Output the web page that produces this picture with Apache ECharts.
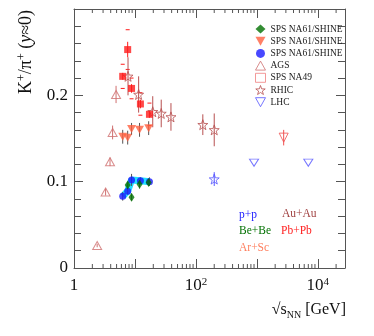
<!DOCTYPE html>
<html>
<head>
<meta charset="utf-8">
<script src="https://cdn.jsdelivr.net/npm/echarts@6/dist/echarts.min.js"></script>
<style>
  html, body { margin: 0; padding: 0; background: #fff; }
  #chart { width: 374px; height: 336px; }
</style>
</head>
<body>
<div id="chart"></div>
<script>
// NA61/SHINE Be+Be
const beE = [7.6, 8.8, 11.9, 16.8];
const beK = [0.096, 0.082, 0.097, 0.099];
const beErr = [0.004, 0.004, 0.005, 0.004];

// NA61/SHINE Ar+Sc
const arE = [6.3, 7.6, 8.8, 11.9, 16.8];
const arK = [0.152, 0.151, 0.161, 0.160, 0.162];
const arErr = [0.008, 0.008, 0.007, 0.008, 0.008];

// NA61/SHINE p+p
const ppE = [6.3, 7.6, 8.8, 12.3, 17.3];
const ppK = [0.083, 0.089, 0.102, 0.101, 0.100];
const ppErr = [0.005, 0.004, 0.007, 0.004, 0.005];

// AGS Au+Au
const agsE = [2.4, 3.3, 3.9, 4.3, 4.9];
const agsK = [0.026, 0.088, 0.123, 0.157, 0.201];
const agsErr = [0.002, 0.004, 0.005, 0.008, 0.010];

// SPS NA49 Pb+Pb
const pbE = [6.3, 7.6, 8.8, 12.3, 17.3];
const pbK = [0.222, 0.253, 0.208, 0.190, 0.178];
const pbStat = [0.004, 0.009, 0.005, 0.005, 0.004];
const pbSys = [0.014, 0.023, 0.012, 0.013, 0.013];

// RHIC Au+Au and p+p
const rhicE = [7.7, 11.5, 19.6, 27, 39, 130, 200];
const rhicK = [0.222, 0.201, 0.181, 0.179, 0.175, 0.166, 0.160];
const rhicErr = [0.022, 0.021, 0.018, 0.016, 0.016, 0.012, 0.019];
const rhicPpE = [200];
const rhicPpK = [0.103];
const rhicPpErr = [0.008];

// LHC Pb+Pb and p+p
const lhcPbE = [2760];
const lhcPbK = [0.151];
const lhcPbErr = [0.009];
const lhcPpE = [900, 7000];
const lhcPpK = [0.122, 0.122];

const xMin = 1, xMax = 28000;
const yMin = 0, yMax = 0.3;

const FONT = 'Liberation Serif';
const C = {
  be: '#007000', ar: '#ff6040', pp: '#1a1aff', band: '#22e0ff',
  ags: '#d07070', pb: '#ff1a1a', rhic: '#b85050', lhcPp: '#5555ff', lhcPb: '#f05050',
  frame: '#555'
};

// 符号形状
function starPath() {
  let d = '';
  for (let i = 0; i < 10; i++) {
    const r = i % 2 ? 4 : 10;
    const a = -Math.PI / 2 + i * Math.PI / 5;
    d += (i ? 'L' : 'M') + (10 + r * Math.cos(a)).toFixed(2) + ',' + (10 + r * Math.sin(a)).toFixed(2);
  }
  return 'path://' + d + 'Z';
}
const STAR = starPath();
const TRI_UP = 'path://M5,0L10,9L0,9Z';
const TRI_DOWN = 'path://M0,0L10,0L5,9Z';

const zip = (xs, ys) => xs.map((x, i) => [x, ys[i]]);
const zipErr = (xs, ys, es, ss) => xs.map((x, i) => [x, ys[i], es[i], ss ? ss[i] : 0]);

// 误差棒
function errSeries(data, color) {
  return {
    type: 'custom',
    silent: true,
    z: 2,
    data: data,
    encode: { x: 0, y: 1 },
    renderItem: (params, api) => {
      const x = api.value(0), y = api.value(1), e = api.value(2), s = api.value(3);
      const top = api.coord([x, y + e]);
      const bot = api.coord([x, y - e]);
      const children = [{
        type: 'line',
        shape: { x1: top[0], y1: top[1], x2: bot[0], y2: bot[1] },
        style: { stroke: color, lineWidth: 1 }
      }];
      if (s > 0) {
        [y + s, y - s].forEach(v => {
          const p = api.coord([x, v]);
          children.push({
            type: 'line',
            shape: { x1: p[0] - 2, y1: p[1], x2: p[0] + 2, y2: p[1] },
            style: { stroke: color, lineWidth: 1 }
          });
        });
      }
      return { type: 'group', children: children };
    }
  };
}

// 对数轴次刻度
const minorX = [];
for (let k = 0; k <= 4; k++) {
  for (let m = 2; m <= 9; m++) {
    const v = m * Math.pow(10, k);
    if (v < xMax) minorX.push([v]);
  }
}

const chart = echarts.init(document.getElementById('chart'), null, { renderer: 'canvas' });

const openStyle = c => ({ color: 'rgba(255,255,255,0)', borderColor: c, borderWidth: 1 });
const tick = { show: true, inside: true, length: 9, lineStyle: { color: C.frame, width: 1 } };
const minor = { show: true, splitNumber: 5, length: 7, lineStyle: { color: C.frame, width: 1 } };
const line = { show: true, onZero: false, lineStyle: { color: C.frame, width: 1 } };

chart.setOption({
  animation: false,
  backgroundColor: '#fff',
  grid: { left: 74, right: 29, top: 9, bottom: 68, outerBoundsMode: 'none' },
  legend: {
    orient: 'vertical',
    left: 250,
    top: 19,
    itemWidth: 10,
    itemHeight: 9,
    itemGap: 2.2,
    selectedMode: false,
    formatter: n => n.replace(/ \(.*\)$/, ''),
    textStyle: { fontFamily: FONT, fontSize: 9.5, color: '#222', lineHeight: 10 },
    data: [
      { name: 'SPS NA61/SHINE (Be+Be)', icon: 'diamond' },
      { name: 'SPS NA61/SHINE (Ar+Sc)', icon: TRI_DOWN },
      { name: 'SPS NA61/SHINE (p+p)', icon: 'circle' },
      { name: 'AGS', icon: TRI_UP, itemStyle: openStyle(C.ags) },
      { name: 'SPS NA49', icon: 'rect', itemStyle: openStyle('#f08080') },
      { name: 'RHIC', icon: STAR, itemStyle: openStyle(C.rhic) },
      { name: 'LHC', icon: TRI_DOWN, itemStyle: openStyle(C.lhcPp) }
    ]
  },
  xAxis: [{
    type: 'log',
    logBase: 10,
    min: xMin,
    max: xMax,
    position: 'bottom',
    axisLine: line,
    axisTick: tick,
    splitLine: { show: false },
    axisLabel: {
      margin: 9,
      fontFamily: FONT,
      fontSize: 17,
      color: '#111',
      formatter: v => {
        const l = Math.log10(v);
        const p = Math.round(l);
        if (Math.abs(l - p) > 1e-6 || p % 2) return '';
        return p === 0 ? '1' : '10{sup|' + p + '}';
      },
      rich: { sup: { fontFamily: FONT, fontSize: 11, verticalAlign: 'top', lineHeight: 10 } }
    }
  }, {
    type: 'log',
    logBase: 10,
    min: xMin,
    max: xMax,
    position: 'top',
    axisLine: line,
    axisTick: tick,
    splitLine: { show: false },
    axisLabel: { show: false }
  }],
  yAxis: [{
    type: 'value',
    min: yMin,
    max: yMax,
    interval: 0.1,
    position: 'left',
    axisLine: line,
    axisTick: tick,
    minorTick: minor,
    splitLine: { show: false },
    axisLabel: {
      margin: 6,
      fontFamily: FONT,
      fontSize: 17,
      color: '#111',
      formatter: v => (v > 0.25 ? '' : String(Math.round(v * 10) / 10))
    }
  }, {
    type: 'value',
    min: yMin,
    max: yMax,
    interval: 0.1,
    position: 'right',
    axisLine: line,
    axisTick: tick,
    minorTick: minor,
    splitLine: { show: false },
    axisLabel: { show: false }
  }],
  graphic: [
    {
      type: 'text', x: 26, y: 10, rotation: Math.PI / 2,
      style: {
        text: 'K{sup|+}/π{sup|+} ({it|y}≈0)',
        align: 'right', verticalAlign: 'middle',
        fontFamily: FONT, fontSize: 18, fill: '#111', lineHeight: 21,
        rich: {
          sup: { fontFamily: FONT, fontSize: 12, verticalAlign: 'top', lineHeight: 11, fill: '#111' },
          it: { fontFamily: FONT, fontSize: 18, fontStyle: 'italic', fill: '#111' }
        }
      }
    },
    {
      type: 'text', x: 346, y: 310,
      style: {
        text: '√s{sub|NN} [GeV]',
        align: 'right', verticalAlign: 'middle',
        fontFamily: FONT, fontSize: 16, fill: '#111', lineHeight: 20,
        rich: { sub: { fontFamily: FONT, fontSize: 10, verticalAlign: 'bottom', lineHeight: 11, fill: '#111' } }
      }
    },
    { type: 'text', x: 239, y: 215, style: { text: 'p+p', fill: C.pp, fontFamily: FONT, fontSize: 11.5, verticalAlign: 'middle' } },
    { type: 'text', x: 239, y: 231, style: { text: 'Be+Be', fill: C.be, fontFamily: FONT, fontSize: 11.5, verticalAlign: 'middle' } },
    { type: 'text', x: 239, y: 248, style: { text: 'Ar+Sc', fill: '#ff8060', fontFamily: FONT, fontSize: 11.5, verticalAlign: 'middle' } },
    { type: 'text', x: 282, y: 214, style: { text: 'Au+Au', fill: '#a04040', fontFamily: FONT, fontSize: 11.5, verticalAlign: 'middle' } },
    { type: 'text', x: 281, y: 231, style: { text: 'Pb+Pb', fill: '#ff2020', fontFamily: FONT, fontSize: 11.5, verticalAlign: 'middle' } }
  ],
  series: [
    // 次刻度 (上下)
    {
      type: 'custom',
      silent: true,
      data: minorX,
      encode: { x: 0 },
      renderItem: (params, api) => {
        const x = api.value(0);
        const b = api.coord([x, yMin]);
        const t = api.coord([x, yMax]);
        return {
          type: 'group',
          children: [
            { type: 'line', shape: { x1: b[0], y1: b[1], x2: b[0], y2: b[1] - 4 }, style: { stroke: C.frame, lineWidth: 1 } },
            { type: 'line', shape: { x1: t[0], y1: t[1], x2: t[0], y2: t[1] + 4 }, style: { stroke: C.frame, lineWidth: 1 } }
          ]
        };
      }
    },
    // p+p 系统误差带
    {
      type: 'line',
      silent: true,
      data: zip(ppE, ppK),
      symbol: 'none',
      z: 1,
      lineStyle: { color: C.band, width: 7 }
    },
    errSeries(zipErr(arE, arK, arErr), '#555'),
    errSeries(zipErr(beE, beK, beErr), '#555'),
    errSeries(zipErr(ppE, ppK, ppErr), '#555'),
    errSeries(zipErr(agsE, agsK, agsErr), C.ags),
    errSeries(zipErr(pbE, pbK, pbStat, pbSys), C.pb),
    errSeries(zipErr(rhicE, rhicK, rhicErr), C.rhic),
    errSeries(zipErr(rhicPpE, rhicPpK, rhicPpErr), C.lhcPp),
    errSeries(zipErr(lhcPbE, lhcPbK, lhcPbErr), C.lhcPb),
    {
      name: 'AGS', type: 'scatter', z: 3,
      data: zip(agsE, agsK), symbol: TRI_UP, symbolSize: [9, 8],
      itemStyle: openStyle(C.ags)
    },
    {
      name: 'RHIC', type: 'scatter', z: 3,
      data: zip(rhicE, rhicK), symbol: STAR, symbolSize: 10,
      itemStyle: openStyle(C.rhic)
    },
    {
      name: 'RHIC', type: 'scatter', z: 3,
      data: zip(rhicPpE, rhicPpK), symbol: STAR, symbolSize: 10,
      itemStyle: openStyle(C.lhcPp)
    },
    {
      name: 'LHC', type: 'scatter', z: 3,
      data: zip(lhcPpE, lhcPpK), symbol: TRI_DOWN, symbolSize: [9, 7],
      itemStyle: openStyle(C.lhcPp)
    },
    {
      name: 'LHC', type: 'scatter', z: 3,
      data: zip(lhcPbE, lhcPbK), symbol: TRI_DOWN, symbolSize: [9, 9],
      itemStyle: openStyle(C.lhcPb)
    },
    {
      name: 'SPS NA49', type: 'scatter', z: 4,
      data: zip(pbE, pbK), symbol: 'rect', symbolSize: 7,
      itemStyle: { color: C.pb }
    },
    {
      name: 'SPS NA61/SHINE (Ar+Sc)', type: 'scatter', z: 4,
      data: zip(arE, arK), symbol: TRI_DOWN, symbolSize: [9, 8],
      itemStyle: { color: C.ar }
    },
    {
      name: 'SPS NA61/SHINE (p+p)', type: 'scatter', z: 4,
      data: zip(ppE, ppK), symbol: 'circle', symbolSize: 7,
      itemStyle: { color: C.pp }
    },
    {
      name: 'SPS NA61/SHINE (Be+Be)', type: 'scatter', z: 5,
      data: zip(beE, beK), symbol: 'diamond', symbolSize: [6, 9],
      itemStyle: { color: C.be }
    }
  ]
});

window.addEventListener('resize', () => chart.resize());
</script>
</body>
</html>
